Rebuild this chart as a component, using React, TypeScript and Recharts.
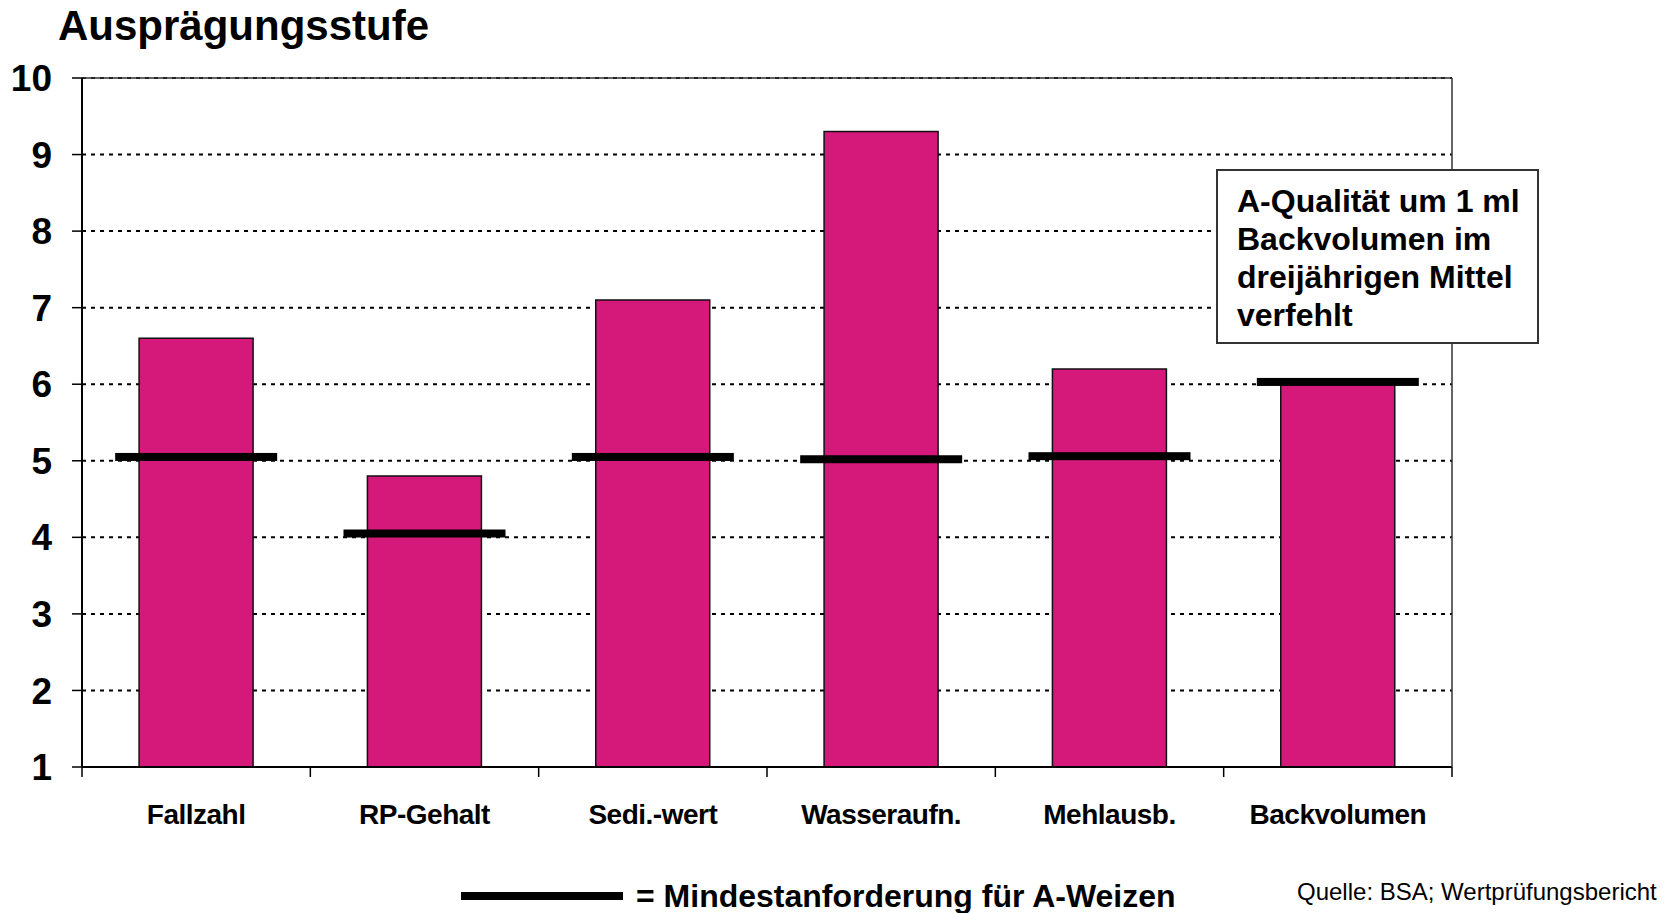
import React from "react";
import { ComposedChart, Bar, Line, XAxis, YAxis, CartesianGrid, ReferenceLine } from "recharts";

const categories = ["Fallzahl", "RP-Gehalt", "Sedi.-wert", "Wasseraufn.", "Mehlausb.", "Backvolumen"];
const levels = [6.6, 4.8, 7.1, 9.3, 6.2, 6.0];
const minimum = [5.05, 4.05, 5.05, 5.02, 5.06, 6.03];
const yTicks = [1, 2, 3, 4, 5, 6, 7, 8, 9, 10];

const titleText = "Ausprägungsstufe";
const noteLines = ["A-Qualität um 1 ml", "Backvolumen im", "dreijährigen Mittel", "verfehlt"];
const legendText = "= Mindestanforderung für A-Weizen";
const sourceText = "Quelle: BSA; Wertprüfungsbericht";

const data = categories.map((name, i) => ({ name, level: levels[i], min: minimum[i] }));

const FONT = "'Liberation Sans', Arial, Helvetica, sans-serif";
const PINK = "#D5197A";

const MinDot = (props: any) => {
  const { cx, cy, index } = props;
  if (cx == null || cy == null) return null;
  return <rect key={`m${index}`} x={cx - 81} y={cy - 4} width={162} height={8} fill="#000" />;
};

const CategoryTick = (props: any) => {
  const { x, y, payload, index } = props;
  const half = payload?.offset ?? 0;
  const last = index === categories.length - 1;
  return (
    <g>
      <line x1={x - half} x2={x - half} y1={y} y2={y + 10} stroke="#000" strokeWidth={1.5} />
      {last && <line x1={x + half} x2={x + half} y1={y} y2={y + 10} stroke="#000" strokeWidth={1.5} />}
      <text
        x={x}
        y={y + 57}
        textAnchor="middle"
        fontSize={28}
        fontWeight={700}
        fill="#000"
        fontFamily={FONT}
        letterSpacing={-0.5}
      >
        {payload.value}
      </text>
    </g>
  );
};

export default function App() {
  return (
    <div style={{ position: "absolute", left: 0, top: 0, width: 1671, height: 913, background: "#fff", fontFamily: FONT }}>
      <ComposedChart
        width={1671}
        height={913}
        data={data}
        margin={{ top: 78, right: 218, bottom: 86, left: 0 }}
        barCategoryGap="25%"
      >
        <CartesianGrid horizontal vertical={false} stroke="#000" strokeDasharray="4 5" strokeWidth={2} />
        <XAxis
          dataKey="name"
          type="category"
          height={60}
          interval={0}
          tickLine={false}
          axisLine={{ stroke: "#000", strokeWidth: 2 }}
          tickSize={0}
          tickMargin={0}
          tick={<CategoryTick />}
        />
        <YAxis
          type="number"
          domain={[1, 10]}
          ticks={yTicks}
          interval={0}
          width={82}
          tickSize={10}
          tickMargin={20}
          tickLine={{ stroke: "#000", strokeWidth: 1.5 }}
          axisLine={{ stroke: "#000", strokeWidth: 2 }}
          tick={{ fontSize: 37, fontWeight: 700, fill: "#000", fontFamily: FONT }}
        />
        <YAxis
          yAxisId="r"
          orientation="right"
          type="number"
          domain={[1, 10]}
          width={1}
          tick={false}
          tickLine={false}
          axisLine={{ stroke: "#333", strokeWidth: 1.5 }}
        />
        <ReferenceLine y={10} stroke="#333" strokeWidth={1.5} />
        <Bar dataKey="level" fill={PINK} stroke="#111" strokeWidth={1.5} isAnimationActive={false} />
        <Line
          dataKey="min"
          stroke="none"
          strokeWidth={0}
          dot={MinDot}
          activeDot={false}
          isAnimationActive={false}
          legendType="none"
        />
      </ComposedChart>
      <svg
        width={1671}
        height={913}
        style={{ position: "absolute", left: 0, top: 0, pointerEvents: "none" }}
      >
        <text x={58} y={40} fontSize={42} fontWeight={700} fill="#000" fontFamily={FONT}>
          {titleText}
        </text>
        <rect x={1217} y={170} width={321} height={173} fill="#fff" stroke="#333" strokeWidth={2} />
        {noteLines.map((t, i) => (
          <text key={t} x={1237} y={212 + i * 38} fontSize={32} fontWeight={700} fill="#000" fontFamily={FONT}>
            {t}
          </text>
        ))}
        <rect x={461} y={892} width={162} height={8} fill="#000" />
        <text x={636} y={907} fontSize={32} fontWeight={700} fill="#000" fontFamily={FONT}>
          {legendText}
        </text>
        <text x={1297} y={900} fontSize={24} fill="#000" fontFamily={FONT}>
          {sourceText}
        </text>
      </svg>
    </div>
  );
}
